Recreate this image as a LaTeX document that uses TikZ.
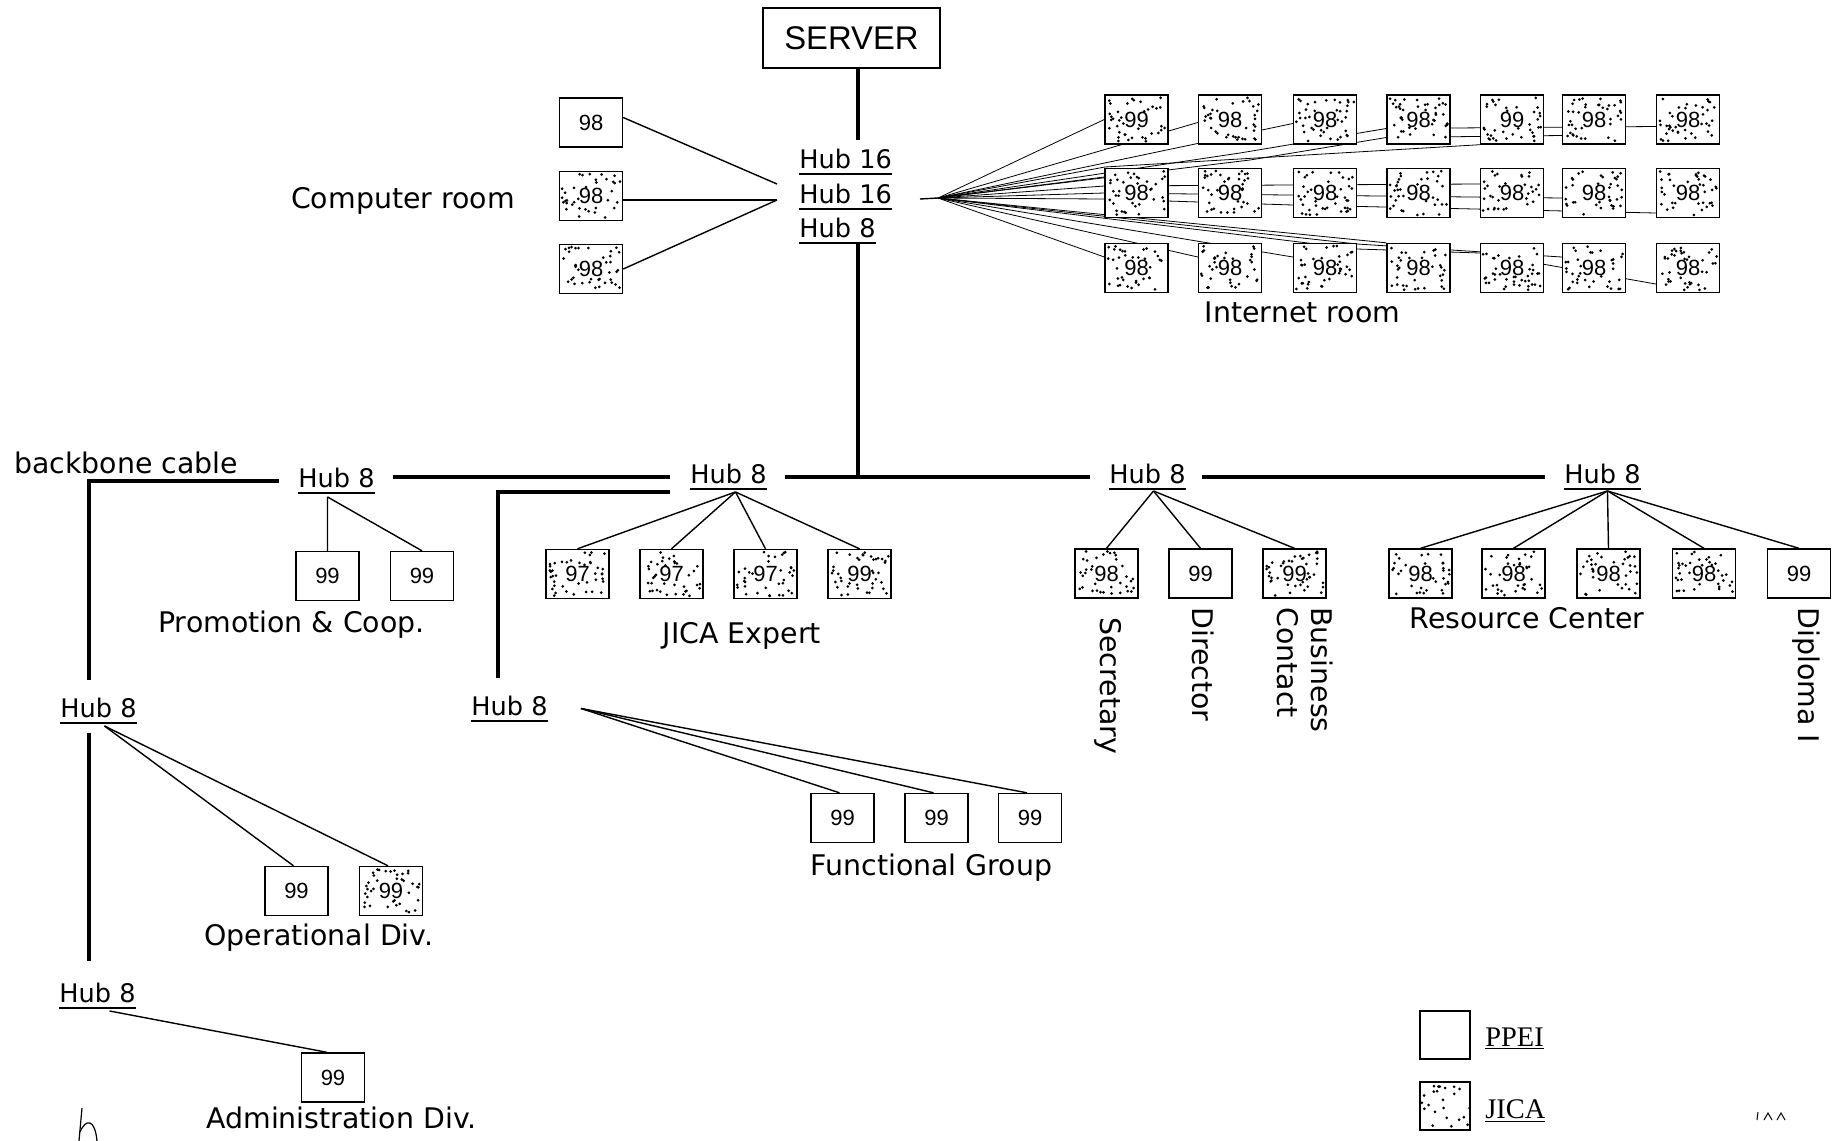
\documentclass[tikz,border=0pt]{standalone}
\usepackage{fontspec}
\setmainfont{DejaVu Sans}
\newfontfamily\numfamily{Liberation Sans}
\newfontfamily\legfamily{Liberation Serif}
\usetikzlibrary{backgrounds,calc}

\newcommand\lblfont{\fontsize{14.2}{17}\selectfont}
\newcommand\hubfont{\fontsize{12.8}{15}\selectfont}
\newcommand\boxfont{\numfamily\fontsize{11}{13}\selectfont}
\newcommand\srvfont{\numfamily\fontsize{16.4}{19}\selectfont}
\newcommand\legfont{\legfamily\fontsize{14.2}{17}\selectfont}

% random stipple inside a box: #1 dots, #2=1 keeps the centre (number) clear
\newcommand\stipple[2]{%
  \foreach \k in {1,...,#1}{%
    \pgfmathsetmacro\du{(rnd-0.5)*58}%
    \pgfmathsetmacro\dv{(rnd-0.5)*44}%
    \pgfmathtruncatemacro\dotoff{#2*((abs(\du)<12)&&(abs(\dv)<8))}%
    \ifnum\dotoff=0
      \fill[black] ([shift={(\du,\dv)}]path picture bounding box.center) circle (0.75pt);%
    \fi
  }}

\tikzset{
  pc/.style={draw, line width=0.7pt, fill=white, minimum width=31.5pt,
    minimum height=24.5pt, inner sep=0pt, font=\boxfont},
  jc/.style={pc, path picture={\stipple{44}{1}}},
  hub/.style={font=\hubfont, inner xsep=0pt, inner ysep=2.6pt, anchor=base west},
  lbl/.style={font=\lblfont, inner sep=0pt},
  bb/.style={line width=1.7pt},
  wire/.style={line width=0.7pt},
  uline/.style={line width=0.6pt},
}

\begin{document}
\begin{tikzpicture}[x=0.5pt,y=-0.5pt]
\useasboundingbox (0,0) rectangle (1838,1141);
\pgfmathsetseed{4242}

% ---------- server and main hub stack ----------
\node[draw, line width=0.8pt, minimum width=88.5pt, minimum height=30pt,
  font=\srvfont] (server) at (851.5,38) {SERVER};
\node[hub] (h16a) at (799,168) {Hub 16};
\node[hub] (h16b) at (799,203) {Hub 16};
\node[hub] (h8t)  at (799,237) {Hub 8};

% ---------- floor hubs ----------
\node[hub] (hp) at (298,487) {Hub 8};
\node[hub] (hj) at (690,483) {Hub 8};
\node[hub] (hs) at (1109,483) {Hub 8};
\node[hub] (hr) at (1564,483) {Hub 8};
\node[hub] (ho) at (60,717) {Hub 8};
\node[hub] (hf) at (471,715) {Hub 8};
\node[hub] (ha) at (59,1002) {Hub 8};
\foreach \h in {h16a,h16b,h8t,hp,hj,hs,hr,ho,hf,ha}
  \draw[uline] (\h.south west) -- (\h.south east);

% ---------- computer room ----------
\node[pc] (cr1) at (591,122.5) {98};
\node[jc] (cr2) at (591,196) {98};
\node[jc] (cr3) at (591,269) {98};
\node[lbl, anchor=base] (lcr) at (403,208) {Computer room};
\coordinate (cra) at (777,184);
\coordinate (crb) at (777,200);
\draw[wire] ([yshift=2.5pt]cr1.east) -- (cra);
\draw[wire] ([yshift=-2pt]cr2.east) -- (crb);
\draw[wire] (cr3.east) -- (crb);

% ---------- internet room ----------
\foreach \c/\x/\t in {1/1136.5/99,2/1230/98,3/1325/98,4/1418.5/98,5/1512/99,6/1594/98,7/1688/98}
  \node[jc] (i1\c) at (\x,119.5) {\t};
\foreach \c/\x in {1/1136.5,2/1230,3/1325,4/1418.5,5/1512,6/1594,7/1688}{
  \node[jc] (i2\c) at (\x,193) {98};
  \node[jc] (i3\c) at (\x,268) {98};
}
\node[lbl, anchor=base] (lir) at (1302.5,322) {Internet room};

\coordinate (fanIn) at (920,199);
\coordinate (fan) at (938,198);
\draw[wire] (fanIn) -- (fan);
\begin{scope}[on background layer, wire]
  \draw (fan) -- (i11.west);
  \draw (fan) -- ([yshift=-1.5pt]i12.west);
  \draw (fan) -- ([yshift=-2pt]i13.west);
  \draw (fan) -- (1240,153) -- ([yshift=-4.5pt]i14.west) -- ([yshift=-3.5pt]i17.west);
  \draw (fan) -- (1250,160) -- ([yshift=-9pt]i14.west) -- ([yshift=-8pt]i16.west);
  \draw (fan) -- (1105,167) -- (i15.south west);
  \draw (fan) -- ([yshift=8pt]i21.west);
  \draw (fan) -- ([yshift=3.5pt]i21.west) -- ([yshift=4.5pt]i25.west);
  \draw (fan) -- (i21.west) -- ([yshift=-2.5pt]i26.west);
  \draw (fan) -- ([yshift=-3pt]i21.west) -- ([yshift=-6pt]i23.west) -- ([yshift=-10pt]i27.west);
  \draw (fan) -- ([yshift=5.5pt]i31.west);
  \draw (fan) -- ([yshift=5.5pt]i32.west);
  \draw (fan) -- ([yshift=5.5pt]i33.west);
  \draw (fan) -- (i34.north west);
  \draw (fan) -- (1357,244) -- ([yshift=5.5pt]i36.west);
  \draw (fan) -- (1357,249) -- ([yshift=7.5pt]i35.west) -- ([yshift=-8pt]i37.west);
\end{scope}

% ---------- backbone ----------
\coordinate (tj) at (858,477);
\draw[bb] (server.south -| tj) -- ([yshift=1.5pt]h16a.north -| tj);
\draw[bb] (h8t.south -| tj) -- (tj);
\draw[bb] ([xshift=9pt]hj.east |- tj) -- ([xshift=-9.5pt]hs.west |- tj);
\draw[bb] ([xshift=8pt]hs.east |- tj) -- ([xshift=-9.5pt]hr.west |- tj);
\draw[bb] ([xshift=-10pt]hj.west |- tj) -- ([xshift=9pt]hp.east |- tj);
\coordinate (bl) at (89,481);
\draw[bb] ([xshift=-9.5pt]hp.west |- bl) -- (bl) -- ([yshift=6pt]ho.north -| bl);
\draw[bb] ([yshift=-5pt]ho.south -| bl) -- ([yshift=8pt]ha.north -| bl);
\coordinate (bl2) at (498,492);
\draw[bb] ([xshift=-10pt]hj.west |- bl2) -- (bl2) -- ([yshift=6pt]hf.north -| bl2);
\node[lbl, anchor=base west] (lbc) at (14,473) {backbone cable};

% ---------- promotion & coop. ----------
\node[pc] (pp1) at (327.5,576) {99};
\node[pc] (pp2) at (422,576) {99};
\coordinate (fp) at ([shift={(-9,4)}]hp.south);
\draw[wire] (fp) -- (pp1.north);
\draw[wire] (fp) -- (pp2.north);
\node[lbl, anchor=base] (lpc) at (291.5,632) {Promotion \& Coop.};

% ---------- JICA expert ----------
\node[jc] (je1) at (577.5,574) {97};
\node[jc] (je2) at (671.5,574) {97};
\node[jc] (je3) at (765.5,574) {97};
\node[jc] (je4) at (859.5,574) {99};
\coordinate (fj) at ([shift={(7,3)}]hj.south);
\foreach \b in {je1,je2,je3,je4} \draw[wire] (fj) -- (\b.north);
\node[lbl, anchor=base] (lje) at (742,643) {JICA Expert};

% ---------- secretary / director / business contact ----------
\node[jc] (sg1) at (1106.5,573.5) {98};
\node[pc] (sg2) at (1200.5,573.5) {99};
\node[jc] (sg3) at (1294.5,573.5) {99};
\coordinate (fs) at ([shift={(6,2)}]hs.south);
\foreach \b in {sg1,sg2,sg3} \draw[wire] (fs) -- (\b.north);
\node[lbl, rotate=-90, anchor=west] (lse) at (1108,617) {Secretary};
\node[lbl, rotate=-90, anchor=west] (ldi) at (1203,607) {Director};
\node[lbl, rotate=-90, anchor=north west, align=left] (lbu) at (1333,607) {Business\\Contact};

% ---------- resource center ----------
\node[jc] (rc1) at (1420.5,573.5) {98};
\node[jc] (rc2) at (1513.5,573.5) {98};
\node[jc] (rc3) at (1608.5,573.5) {98};
\node[jc] (rc4) at (1704,573.5) {98};
\node[pc] (rc5) at (1799,573.5) {99};
\coordinate (fr) at ([shift={(5,2)}]hr.south);
\foreach \b in {rc1,rc2,rc3,rc4,rc5} \draw[wire] (fr) -- (\b.north);
\node[lbl, anchor=base] (lrc) at (1527,628) {Resource Center};
\node[lbl, rotate=-90, anchor=west] (ldp) at (1806,607) {Diploma I};

% ---------- functional group ----------
\node[pc] (fg1) at (842.5,818) {99};
\node[pc] (fg2) at (936.5,818) {99};
\node[pc] (fg3) at (1030,818) {99};
\coordinate (ff) at ([shift={(33,3)}]hf.east);
\foreach \b in {fg1,fg2,fg3} \draw[wire] (ff) -- ([xshift=-1.5pt]\b.north);
\node[lbl, anchor=base] (lfg) at (931.5,875) {Functional Group};

% ---------- operational div. ----------
\node[pc] (od1) at (296.5,891) {99};
\node[jc] (od2) at (391,891) {99};
\coordinate (fo) at ([shift={(6,3)}]ho.south);
\draw[wire] (fo) -- ([xshift=-1.5pt]od1.north);
\draw[wire] (fo) -- ([xshift=-1.5pt]od2.north);
\node[lbl, anchor=base] (lod) at (319,945) {Operational Div.};

% ---------- administration div. ----------
\node[pc] (ad1) at (333,1077.5) {99};
\coordinate (fa) at ([shift={(12,3)}]ha.south);
\draw[wire] (fa) -- ([xshift=-3pt]ad1.north);
\node[lbl, anchor=base] (lad) at (341.5,1128) {Administration Div.};

% ---------- legend ----------
\node[pc, minimum width=25pt, minimum height=24pt] (lgp) at (1445,1035) {};
\node[pc, minimum width=25pt, minimum height=24pt, path picture={\stipple{28}{0}}] (lgj) at (1445,1106) {};
\node[anchor=base west, inner sep=0pt, font=\legfont] (ltp) at (1485,1046) {\underline{PPEI}};
\node[anchor=base west, inner sep=0pt, font=\legfont] (ltj) at (1485,1118) {\underline{JICA}};

% ---------- pen marks ----------
\draw[line width=0.6pt] (82,1108) -- (79,1141);
\draw[line width=0.6pt] (80,1132) .. controls (86,1118) and (95,1119) .. (97,1141);
\draw[line width=0.5pt] (1758,1112) -- (1757,1120);
\draw[line width=0.5pt] (1764,1120) -- (1768,1113) -- (1772,1120);
\draw[line width=0.5pt] (1777,1120) -- (1781,1113) -- (1785,1120);
\end{tikzpicture}
\end{document}
